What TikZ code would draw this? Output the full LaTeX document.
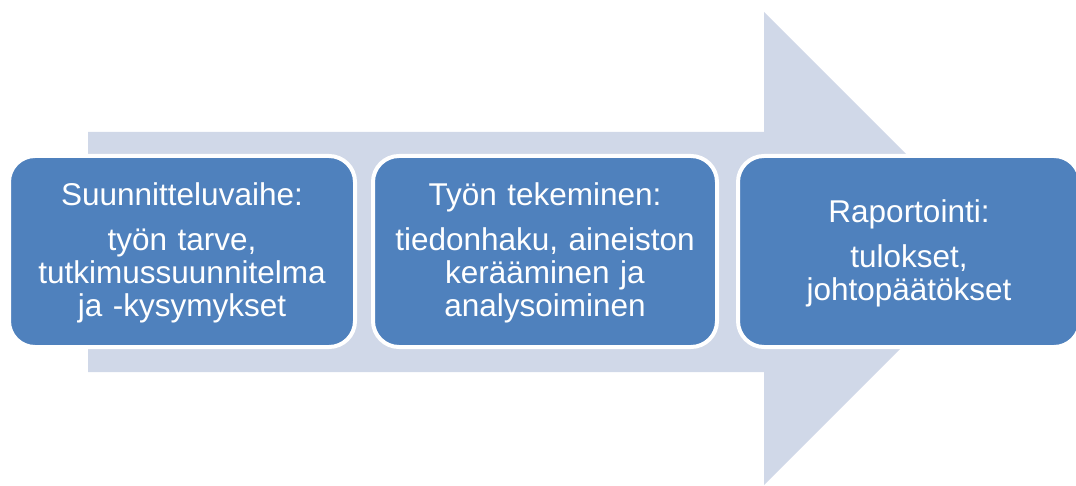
\documentclass[tikz,border=0pt]{standalone}
\usepackage{fontspec}
\setmainfont{Liberation Sans}
\definecolor{arrowfill}{HTML}{D0D8E8}
\definecolor{boxfill}{HTML}{4F81BD}
\begin{document}
\begin{tikzpicture}[x=1pt,y=-1pt,
  stagebox/.style={draw=white, line width=4pt, fill=boxfill, rounded corners=26pt,
    minimum height=191pt, inner sep=0pt, text=white, align=center,
    font=\fontsize{31.5}{33}\selectfont},
  bigarrow/.style={fill=arrowfill, draw=none}]
\useasboundingbox (0,0) rectangle (1076,486);
\fill[bigarrow] (88,132) -- (764,132) -- (764,12) -- (1000.5,248.5) -- (764,485) -- (764,372) -- (88,372) -- cycle;
\node[stagebox, minimum width=346pt, text width=330pt] (plan) at (182,251.5)
  {\rule{0pt}{26pt}Suunnitteluvaihe:\\[12pt]työn tarve,\\tutkimussuunnitelma\\ja -kysymykset};
\node[stagebox, minimum width=344pt, text width=330pt] (work) at (545,251.5)
  {\rule{0pt}{26pt}Työn tekeminen:\\[12pt]tiedonhaku, aineiston\\kerääminen ja\\analysoiminen};
\node[stagebox, minimum width=342pt, text width=320pt] (report) at (909,251.5)
  {\rule{0pt}{26pt}Raportointi:\\[12pt]tulokset,\\johtopäätökset};
\end{tikzpicture}
\end{document}
